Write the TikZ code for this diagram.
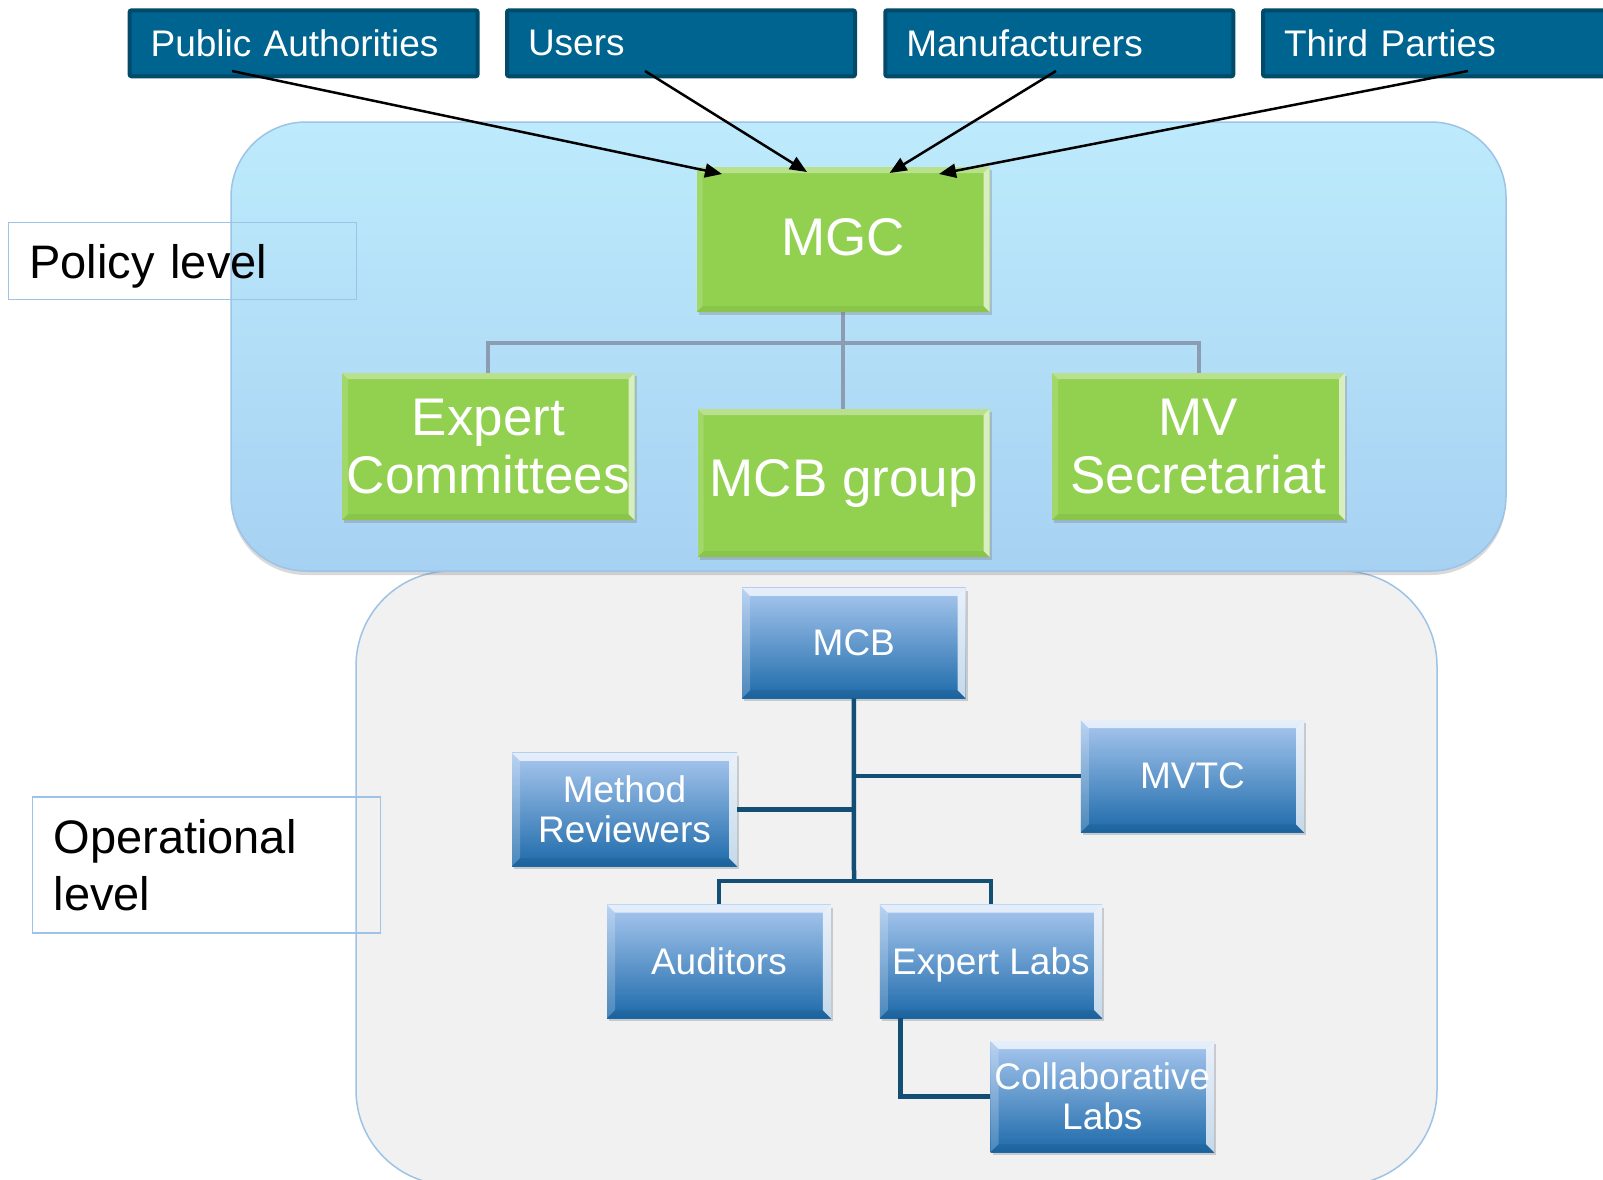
\documentclass[tikz,border=0pt]{standalone}
\usepackage{fontspec}
\setmainfont{Liberation Sans}
\usetikzlibrary{shadows,arrows.meta}
\definecolor{topblue}{HTML}{006490}
\definecolor{topborder}{HTML}{024A69}
\definecolor{lblue}{HTML}{9DC3E6}
\definecolor{lgray}{HTML}{F1F1F1}
\definecolor{poltop}{HTML}{BDEBFC}
\definecolor{polbot}{HTML}{A7D1F2}
\definecolor{gbody}{HTML}{92D050}
\definecolor{opline}{HTML}{134F75}
\definecolor{polline}{HTML}{8B9CB3}
\definecolor{optop}{HTML}{A9C8EF}
\definecolor{opbot}{HTML}{1D6AAA}
\newcommand\bevelpp[5]{%
 \fill[#1] (path picture bounding box.north west) -- (path picture bounding box.north east) -- ([xshift=-#5pt,yshift=-#5pt]path picture bounding box.north east) -- ([xshift=#5pt,yshift=-#5pt]path picture bounding box.north west) -- cycle;
 \fill[#2] (path picture bounding box.north west) -- ([xshift=#5pt,yshift=-#5pt]path picture bounding box.north west) -- ([xshift=#5pt,yshift=#5pt]path picture bounding box.south west) -- (path picture bounding box.south west) -- cycle;
 \fill[#3] (path picture bounding box.north east) -- ([xshift=-#5pt,yshift=-#5pt]path picture bounding box.north east) -- ([xshift=-#5pt,yshift=#5pt]path picture bounding box.south east) -- (path picture bounding box.south east) -- cycle;
 \fill[#4] (path picture bounding box.south west) -- ([xshift=#5pt,yshift=#5pt]path picture bounding box.south west) -- ([xshift=-#5pt,yshift=#5pt]path picture bounding box.south east) -- (path picture bounding box.south east) -- cycle;
}
\tikzset{
 topbox/.style={draw=topborder, line width=4pt, fill=topblue, rounded corners=2pt,
   minimum width=348pt, minimum height=66pt, inner xsep=21pt, text width=306pt,
   align=left, text=white, font=\fontsize{37}{40}\selectfont},
 greenbox/.style={fill=gbody, text=white, align=center, inner sep=0pt,
   font=\fontsize{53}{58}\selectfont,
   drop shadow={shadow xshift=2pt, shadow yshift=-3pt, opacity=0.35},
   path picture={\bevelpp{fill=white,opacity=0.35}{fill=white,opacity=0.15}{fill=white,opacity=0.65}{fill=black,opacity=0.05}{6}}},
 opbox/.style={top color=optop, bottom color=opbot, text=white, align=center, inner sep=0pt,
   font=\fontsize{37}{39.5}\selectfont,
   drop shadow={shadow xshift=2pt, shadow yshift=-3pt, opacity=0.35},
   path picture={\bevelpp{fill=white,opacity=0.7}{fill=white,opacity=0.2}{fill=white,opacity=0.75}{fill=black,opacity=0.07}{8}}},
 lvlbox/.style={draw=lblue, line width=1.5pt, align=left, inner xsep=21pt,
   font=\fontsize{47}{57}\selectfont},
 polconn/.style={draw=polline, line width=4pt},
 opconn/.style={draw=opline, line width=4.5pt},
 feed/.style={draw=black, line width=2.5pt, -{Triangle[length=17pt,width=14pt]}}
}
\begin{document}
\begin{tikzpicture}[x=1pt,y=-1pt]
\useasboundingbox (0,0) rectangle (1603,1179);
\clip (0,0) rectangle (1603,1179);
% operational area
\path[draw=lblue, line width=1.5pt, fill=lgray, rounded corners=95pt] (356,571) rectangle (1437,1185);
% policy area
\path[top color=poltop, bottom color=polbot, draw=lblue, line width=1.5pt, rounded corners=75pt,
  drop shadow={shadow xshift=0pt, shadow yshift=-4pt, opacity=0.3}] (231,122) rectangle (1506,571);
% level labels
\node[lvlbox, text width=306pt, minimum height=77pt, text depth=0pt] (pol) at (182.5,261.2) {Policy level};
\node[lvlbox, text width=306pt, minimum height=136pt] (oper) at (206.6,865.2) {Operational\\level};
% top boxes
\node[topbox] (pa) at (303.6,43.3) {Public Authorities};
\node[topbox] (us) at (681,43.3) {Users};
\node[topbox] (mf) at (1059.3,43.3) {Manufacturers};
\node[topbox] (tp) at (1437,43.3) {Third Parties};
% policy tree connectors
\coordinate (pbar) at (843,342.7);
\coordinate (mgcS) at (843,312);
\coordinate (mcbgN) at (843,409);
\coordinate (ecN) at (488.3,373);
\coordinate (msN) at (1198.5,373);
\draw[polconn] (mgcS) -- (mcbgN);
\draw[polconn] (ecN) |- (pbar) -| (msN);
% policy boxes
\node[greenbox, minimum width=293pt, minimum height=145pt] (mgc) at (843,239.5) {\raisebox{5pt}{MGC}};
\node[greenbox, minimum width=292.6pt, minimum height=147pt] (expcom) at (488.3,446.7) {Expert\\Committees};
\node[greenbox, minimum width=292pt, minimum height=148pt] (mcbg) at (843.7,483) {MCB group};
\node[greenbox, minimum width=293pt, minimum height=147pt] (mvsec) at (1198.5,446.7) {MV\\Secretariat};
% operational boxes
\node[opbox, minimum width=223.5pt, minimum height=110.4pt] (mcb) at (853.8,643) {MCB};
\node[opbox, minimum width=225pt, minimum height=113.3pt] (method) at (624.5,809.4) {Method\\Reviewers};
\node[opbox, minimum width=223.3pt, minimum height=112.4pt] (mvtc) at (1192.4,776.2) {MVTC};
\node[opbox, minimum width=223.7pt, minimum height=113.4pt] (aud) at (718.9,961.3) {Auditors};
\node[opbox, minimum width=222.3pt, minimum height=113.4pt, text depth=0pt] (explabs) at (990.9,961.3) {Expert Labs};
\node[opbox, minimum width=223.4pt, minimum height=111pt] (collab) at (1102.3,1096.5) {Collaborative\\Labs};
% operational connectors
\coordinate (ojoin) at (854,881);
\coordinate (elb) at ([xshift=21pt]explabs.south west);
\draw[opconn] (mcb.south) -- (ojoin);
\draw[opconn] (aud.north) |- (ojoin) -| (explabs.north);
\draw[opconn] (mvtc.west) -- (mvtc.west -| mcb.south);
\draw[opconn] (method.east) -- (method.east -| mcb.south);
\draw[opconn] (elb) |- (collab.west);
% feed arrows
\coordinate (paA) at (232,71);   \coordinate (paB) at (722,174);
\coordinate (usA) at (645,71);   \coordinate (usB) at (807,172);
\coordinate (mfA) at (1056,71);  \coordinate (mfB) at (889.6,173);
\coordinate (tpA) at (1468,71);  \coordinate (tpB) at (939,174);
\draw[feed] (paA) -- (paB);
\draw[feed] (usA) -- (usB);
\draw[feed] (mfA) -- (mfB);
\draw[feed] (tpA) -- (tpB);
\end{tikzpicture}
\end{document}
